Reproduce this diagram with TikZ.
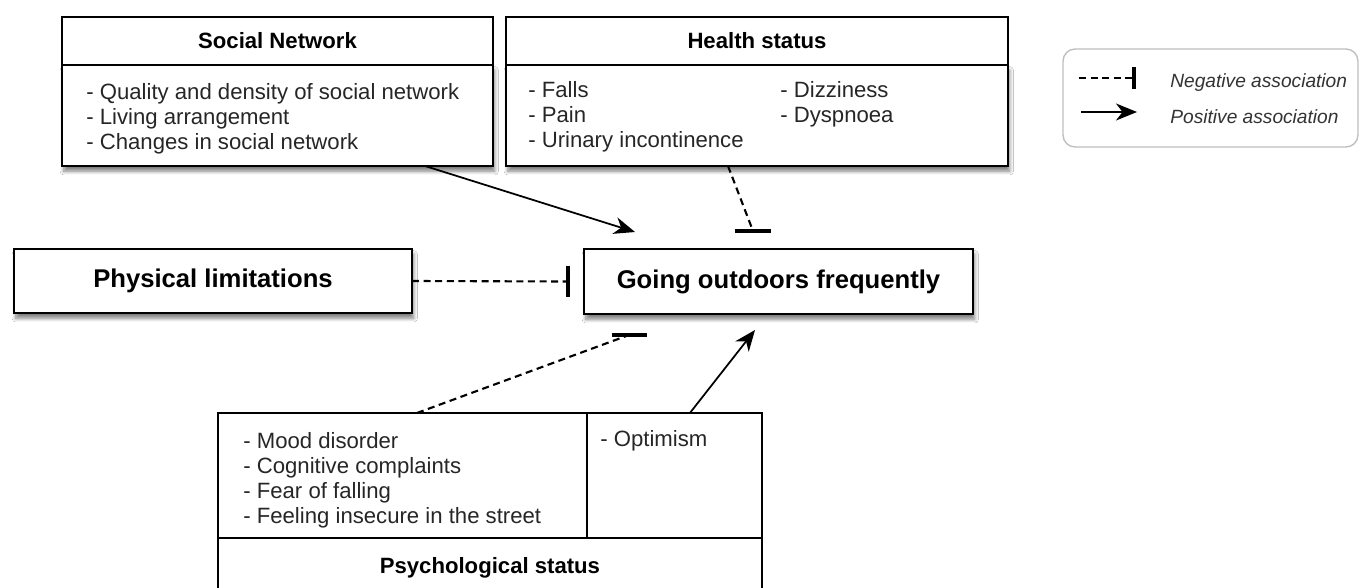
\documentclass[tikz,border=0pt]{standalone}
\usepackage{fontspec}
\setmainfont{Liberation Sans}
\usetikzlibrary{positioning,arrows.meta,shadows.blur}

\begin{document}
\begin{tikzpicture}
[x=0.02cm, y=-0.02cm,
 box/.style={rectangle, draw=black, line width=1.1pt, fill=white, inner sep=0pt, outer sep=0pt},
 shade/.style={blur shadow={shadow xshift=1pt, shadow yshift=-3pt, shadow blur steps=8, shadow opacity=50}},
 head/.style={box, font=\fontsize{12.6}{14.2}\selectfont\bfseries},
 big/.style={box, shade, font=\fontsize{14.6}{17}\selectfont\bfseries},
 items/.style={inner sep=0pt, anchor=west, align=left, text=black!85, font=\fontsize{12.6}{14.2}\selectfont},
 key/.style={inner sep=0pt, anchor=west, text=black!80, font=\fontsize{10.9}{13}\selectfont\itshape},
 posarrow/.style={line width=1pt, -{Stealth[length=4.2mm, width=3.4mm, inset=1.3mm]}},
 negline/.style={line width=1.2pt, dash pattern=on 4pt off 2.6pt},
 barline/.style={line width=2.2pt}]

\clip (0,0) rectangle (1360,588);
\fill[white] (0,0) rectangle (1360,588);

%Nodes
\node[head, minimum width=8.62cm, minimum height=0.96cm] (social) at (277.5,41) {Social Network};
\node[box, shade, minimum width=8.62cm, minimum height=2.02cm, below=0pt of social] (socialbody) {};
\node[items] (socialitems) at (86,119) {- Quality and density of social network\\- Living arrangement\\- Changes in social network};

\node[head, minimum width=10.04cm, minimum height=0.96cm] (health) at (757,41) {Health status};
\node[box, shade, minimum width=10.04cm, minimum height=2.02cm, below=0pt of health] (healthbody) {};
\node[items] (healthleft) at (528,117) {- Falls\\- Pain\\- Urinary incontinence};
\node[items] (healthright) at (780,104) {- Dizziness\\- Dyspnoea};

\node[big, minimum width=7.96cm, minimum height=1.28cm] (physical) at (213,281) {Physical limitations};
\node[big, minimum width=7.78cm, minimum height=1.3cm] (going) at (778.5,281.5) {Going outdoors frequently};

\node[box, minimum width=7.38cm, minimum height=2.5cm, anchor=north west] (psychleft) at (218,413) {};
\node[box, minimum width=3.5cm, minimum height=2.5cm, right=0pt of psychleft] (psychright) {};
\node[head, minimum width=10.88cm, minimum height=1.2cm, anchor=north west] (psych) at (psychleft.south west) {Psychological status};
\node[items] (psychitems) at (243,480) {- Mood disorder\\- Cognitive complaints\\- Fear of falling\\- Feeling insecure in the street};
\node[items] (optimism) at (600,441) {- Optimism};

%Legend
\node[draw=black!25, line width=0.8pt, rounded corners=0.24cm, minimum width=5.9cm, minimum height=1.96cm] (legend) at (1210.5,98) {};
\coordinate (negA) at (1079,78);
\coordinate (negB) at (1134,78);
\coordinate (posA) at (1081,112);
\coordinate (posB) at (1137,112);
\draw[negline] (negA) -- (negB);
\draw[barline] ([yshift=0.22cm]negB) -- ([yshift=-0.22cm]negB);
\draw[posarrow] (posA) -- (posB);
\node[key] (negtext) at (1170,83) {Negative association};
\node[key] (postext) at (1170,117) {Positive association};

%Lines
\coordinate (hgEnd) at ([xshift=-0.51cm, yshift=0.36cm]going.north);
\coordinate (pgEnd) at ([xshift=-0.32cm]going.west);
\coordinate (sgEnd) at ([xshift=-2.99cm, yshift=-0.42cm]going.south);

\draw[posarrow] ([xshift=2.95cm]socialbody.south) -- ([xshift=-2.87cm, yshift=0.34cm]going.north);
\draw[negline] ([xshift=-0.58cm]healthbody.south) -- (hgEnd);
\draw[barline] ([xshift=-0.36cm]hgEnd) -- ([xshift=0.36cm]hgEnd);
\draw[negline] (physical.east) -- (pgEnd);
\draw[barline] ([yshift=0.31cm]pgEnd) -- ([yshift=-0.31cm]pgEnd);
\draw[negline] ([xshift=0.29cm]psychleft.north) -- (sgEnd);
\draw[barline] ([xshift=-0.35cm]sgEnd) -- ([xshift=0.35cm]sgEnd);
\draw[posarrow] ([xshift=0.31cm]psychright.north) -- ([xshift=-0.47cm, yshift=-0.32cm]going.south);

\end{tikzpicture}
\end{document}
